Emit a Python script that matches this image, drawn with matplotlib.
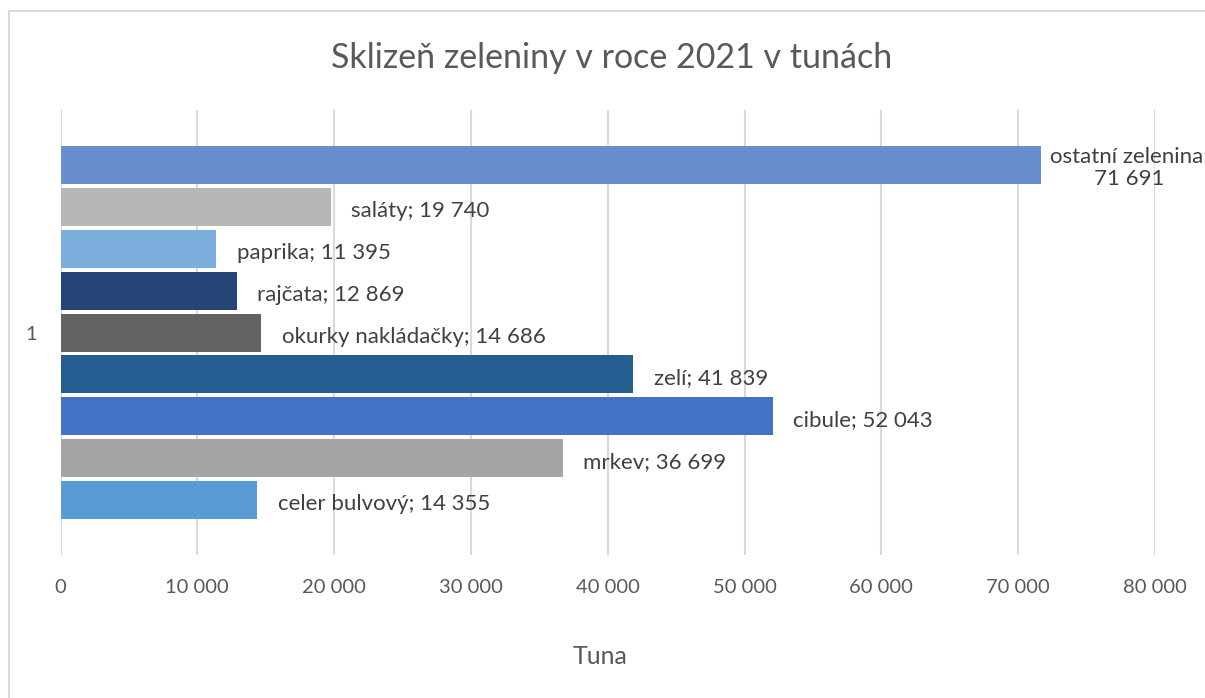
import numpy as np
import matplotlib
matplotlib.use("Agg")
import matplotlib.pyplot as plt
from matplotlib.patches import Rectangle

plt.rcParams['font.family'] = ['Lato', 'DejaVu Sans']

# data, listed from the bottom bar to the top bar
series = ["celer bulvový", "mrkev", "cibule", "zelí", "okurky nakládačky",
          "rajčata", "paprika", "saláty", "ostatní zelenina"]
values = [14355, 36699, 52043, 41839, 14686, 12869, 11395, 19740, 71691]
colors = ["#5B9BD5", "#A5A5A5", "#4472C4", "#255E91", "#636363",
          "#264478", "#7CAFDD", "#B7B7B7", "#698ED0"]
category = ["1"]
xticks = np.arange(0, 80001, 10000)

def fmt(v):
    return f"{int(v):,}".replace(",", " ")

W, H = 1205, 698
fig = plt.figure(figsize=(W / 100, H / 100), dpi=100)

# chart border (cropped at right/bottom like the reference)
fig.patches.append(Rectangle((8.5 / W, -0.1), 1.2, 1 - 11 / H + 0.1,
                             transform=fig.transFigure, fill=False,
                             edgecolor="#D9D9D9", linewidth=1.5))

ax = fig.add_axes([60.5 / W, 1 - 555 / H, 1094.5 / W, 445 / H])

n = len(series)
pitch = 0.847 / n
barh = 38 / 445
for i, (name, v, c) in enumerate(zip(series, values, colors)):
    y = -0.4235 + (i + 0.5) * pitch
    ax.barh(y, v, height=barh, color=c, zorder=3)
    if name == "ostatní zelenina":
        ax.annotate(f"{name};\n{fmt(v)}", (v, y), xytext=(6, -2),
                    textcoords="offset points", ha="left", va="center",
                    multialignment="center", fontsize=16, color="#404040",
                    linespacing=1.15, annotation_clip=False)
    else:
        ax.annotate(f"{name}; {fmt(v)}", (v, y), xytext=(15, -3),
                    textcoords="offset points", ha="left", va="center",
                    fontsize=16, color="#404040")

ax.set_xlim(0, 80000)
ax.set_ylim(-0.5, 0.5)
ax.set_xticks(xticks)
ax.set_xticklabels([fmt(t) for t in xticks])
ax.set_yticks([0])
ax.set_yticklabels(category)
ax.tick_params(axis="x", length=0, pad=17, labelsize=14.5, labelcolor="#595959")
ax.tick_params(axis="y", length=0, pad=17, labelsize=14.5, labelcolor="#595959")
for s in ax.spines.values():
    s.set_visible(False)
ax.grid(axis="x", color="#D9D9D9", linewidth=1.5, zorder=0)
ax.set_axisbelow(True)

fig.text(600 / W, 1 - 657 / H, "Tuna", ha="center", va="center",
         fontsize=18, color="#595959")
fig.text(612 / W, 1 - 58 / H, "Sklizeň zeleniny v roce 2021 v tunách",
         ha="center", va="center", fontsize=24.5, color="#595959")

fig.savefig("out.png", dpi=100)
